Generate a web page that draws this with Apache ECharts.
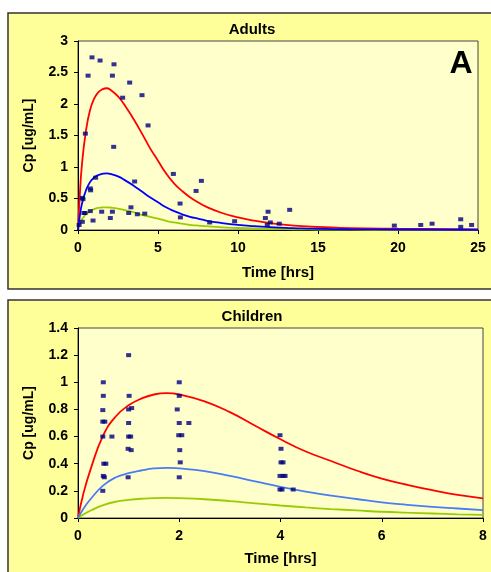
<!DOCTYPE html>
<html>
<head>
<meta charset="utf-8">
<script src="https://cdn.jsdelivr.net/npm/echarts@6/dist/echarts.min.js"></script>
<style>
  html, body { margin: 0; padding: 0; background: #fff; }
  #chart { width: 491px; height: 572px; }
</style>
</head>
<body>
<div id="chart"></div>
<script>
  // Adults - measured points
  var adultT = [0.07, 0.27, 0.27, 0.31, 0.37, 0.44, 0.46, 0.63, 0.77, 0.77, 0.79, 0.875, 0.94, 1.1, 1.38, 1.48,
    2.02, 2.15, 2.15, 2.23, 2.25, 2.79, 3.17, 3.23, 3.31, 3.54, 3.71, 4.0, 4.17, 4.38, 5.96, 6.38, 6.4,
    7.38, 7.71, 8.23, 9.79, 11.71, 11.83, 11.88, 12.02, 12.58, 13.23, 19.77, 21.42, 22.13, 23.92, 23.92, 24.6];
  var adultC = [0.08, 0.13, 0.51, 0.49, 0.27, 0.27, 1.53, 2.45, 0.30, 0.66, 0.63, 2.74, 0.15, 0.83, 2.69, 0.29,
    0.19, 2.45, 0.29, 1.32, 2.63, 2.10, 0.27, 2.34, 0.36, 0.77, 0.25, 2.14, 0.26, 1.66, 0.89, 0.42, 0.20,
    0.62, 0.78, 0.12, 0.14, 0.19, 0.08, 0.29, 0.12, 0.10, 0.32, 0.07, 0.08, 0.10, 0.17, 0.05, 0.08];

  // Adults - model curves
  var adultCurveT = [0, 0.1, 0.25, 0.5, 0.75, 1, 1.25, 1.5, 1.8, 2, 2.5, 3, 3.5, 4, 4.5, 5, 5.5, 6, 6.5, 7, 7.5, 8,
    9, 10, 11, 12, 13, 14, 15, 17, 20, 25];
  var adultRed = [0, 0.5, 1.05, 1.58, 1.9, 2.08, 2.18, 2.23, 2.25, 2.23, 2.12, 1.95, 1.75, 1.53, 1.30, 1.10, 0.90,
    0.74, 0.62, 0.52, 0.44, 0.37, 0.27, 0.20, 0.15, 0.11, 0.08, 0.06, 0.05, 0.03, 0.02, 0.01];
  var adultBlue = [0, 0.2, 0.42, 0.63, 0.76, 0.83, 0.87, 0.89, 0.9, 0.89, 0.85, 0.78, 0.70, 0.61, 0.52, 0.44, 0.36,
    0.30, 0.25, 0.21, 0.18, 0.15, 0.11, 0.08, 0.06, 0.045, 0.035, 0.025, 0.02, 0.012, 0.008, 0.004];
  var adultGreen = [0, 0.08, 0.17, 0.25, 0.30, 0.33, 0.35, 0.357, 0.36, 0.357, 0.34, 0.31, 0.28, 0.24, 0.21, 0.18, 0.145,
    0.12, 0.10, 0.083, 0.07, 0.06, 0.043, 0.032, 0.024, 0.018, 0.014, 0.01, 0.008, 0.005, 0.003, 0.002];

  // Children - measured points
  var childT = [0.5, 0.5, 0.49, 0.49, 0.53, 0.49, 0.67, 0.51, 0.55, 0.5, 0.52, 0.49,
    1.0, 1.01, 1.0, 1.06, 1.0, 1.0, 1.04, 0.99, 1.05, 0.99,
    2.0, 2.0, 1.96, 2.0, 2.19, 1.99, 2.05, 2.01, 2.02, 2.0,
    3.99, 4.01, 4.01, 4.05, 3.99, 4.05, 4.09, 3.99, 4.03, 4.25];
  var childC = [1.0, 0.9, 0.795, 0.71, 0.71, 0.6, 0.6, 0.4, 0.4, 0.31, 0.3, 0.2,
    1.2, 0.9, 0.8, 0.81, 0.7, 0.6, 0.6, 0.51, 0.5, 0.3,
    1.0, 0.9, 0.8, 0.7, 0.7, 0.61, 0.61, 0.5, 0.41, 0.3,
    0.61, 0.51, 0.41, 0.41, 0.31, 0.31, 0.31, 0.21, 0.21, 0.21];

  // Children - model curves
  var childCurveT = [0, 0.1, 0.25, 0.5, 0.75, 1, 1.25, 1.5, 1.75, 2, 2.5, 3, 3.5, 4, 4.5, 5, 5.5, 6, 6.5, 7, 7.5, 8];
  var childRed = [0, 0.17, 0.36, 0.61, 0.75, 0.83, 0.88, 0.91, 0.92, 0.91, 0.86, 0.78, 0.68, 0.58, 0.49, 0.42,
    0.35, 0.29, 0.245, 0.205, 0.17, 0.145];
  var childBlue = [0, 0.065, 0.14, 0.24, 0.30, 0.33, 0.35, 0.365, 0.37, 0.365, 0.345, 0.31, 0.27, 0.23, 0.195,
    0.165, 0.14, 0.115, 0.097, 0.082, 0.07, 0.058];
  var childGreen = [0, 0.025, 0.055, 0.095, 0.12, 0.133, 0.142, 0.147, 0.148, 0.146, 0.138, 0.125, 0.108, 0.092,
    0.078, 0.066, 0.056, 0.046, 0.039, 0.033, 0.027, 0.023];

  function pairs(xs, ys) {
    return xs.map(function (x, i) { return [x, ys[i]]; });
  }

  var font = "'Liberation Sans', Arial, sans-serif";

  function xAx(grid, max, interval, gap) {
    return {
      type: 'value', gridIndex: grid, min: 0, max: max, interval: interval,
      name: 'Time [hrs]', nameLocation: 'middle', nameGap: gap,
      nameTextStyle: { fontFamily: font, fontWeight: 'bold', fontSize: 15, color: '#000' },
      axisLine: { lineStyle: { color: '#000', width: 1 } },
      axisTick: { show: true, length: 4, lineStyle: { color: '#000' } },
      axisLabel: { margin: 11, fontFamily: font, fontWeight: 'bold', fontSize: 14, color: '#000' },
      splitLine: { show: false }
    };
  }
  function yAx(grid, max, interval) {
    return {
      type: 'value', gridIndex: grid, min: 0, max: max, interval: interval,
      name: 'Cp [ug/mL]', nameLocation: 'middle', nameGap: 42,
      nameTextStyle: { fontFamily: font, fontWeight: 'bold', fontSize: 14, color: '#000' },
      axisLine: { show: true, lineStyle: { color: '#000', width: 1 } },
      axisTick: { show: true, length: 4, lineStyle: { color: '#000' } },
      axisLabel: { margin: 10, fontFamily: font, fontWeight: 'bold', fontSize: 14, color: '#000' },
      splitLine: { show: false }
    };
  }
  function curve(xi, data, color, z) {
    return {
      type: 'line', xAxisIndex: xi, yAxisIndex: xi, data: data, showSymbol: false,
      smooth: true, z: z,
      lineStyle: { color: color, width: 1.8 }, silent: true
    };
  }
  function dots(xi, data) {
    return {
      type: 'scatter', xAxisIndex: xi, yAxisIndex: xi, data: data, z: 5,
      symbol: 'rect', symbolSize: [5, 4], itemStyle: { color: '#000080' }
    };
  }

  var chart = echarts.init(document.getElementById('chart'));
  var option = {
    animation: false,
    backgroundColor: '#fff',
    graphic: [
      { type: 'rect', z: -10, shape: { x: 8, y: 13, width: 500, height: 276 },
        style: { fill: '#FFFF99', stroke: '#333', lineWidth: 1.5 } },
      { type: 'rect', z: -10, shape: { x: 8, y: 300, width: 500, height: 290 },
        style: { fill: '#FFFF99', stroke: '#333', lineWidth: 1.5 } },
      { type: 'text', x: 252, y: 30, z: 10,
        style: { text: 'Adults', fill: '#000', font: 'bold 15px ' + font, textAlign: 'center', textVerticalAlign: 'middle' } },
      { type: 'text', x: 252, y: 317, z: 10,
        style: { text: 'Children', fill: '#000', font: 'bold 15px ' + font, textAlign: 'center', textVerticalAlign: 'middle' } },
      { type: 'text', x: 461, y: 64, z: 10,
        style: { text: 'A', fill: '#000', font: 'bold 32px ' + font, textAlign: 'center', textVerticalAlign: 'middle' } }
    ],
    grid: [
      { left: 78, top: 41, width: 400, height: 189, show: true, backgroundColor: '#FFFFCC', borderColor: '#444', borderWidth: 1 },
      { left: 78, top: 328, width: 405, height: 190, show: true, backgroundColor: '#FFFFCC', borderColor: '#444', borderWidth: 1 }
    ],
    xAxis: [xAx(0, 25, 5, 35), xAx(1, 8, 2, 33)],
    yAxis: [yAx(0, 3, 0.5), yAx(1, 1.4, 0.2)],
    series: [
      curve(0, pairs(adultCurveT, adultGreen), '#99CC00', 2),
      curve(0, pairs(adultCurveT, adultRed), '#FF0000', 3),
      curve(0, pairs(adultCurveT, adultBlue), '#0000FF', 4),
      dots(0, pairs(adultT, adultC)),
      curve(1, pairs(childCurveT, childGreen), '#99CC00', 2),
      curve(1, pairs(childCurveT, childRed), '#FF0000', 3),
      curve(1, pairs(childCurveT, childBlue), '#4A7DF2', 4),
      dots(1, pairs(childT, childC))
    ]
  };
  chart.setOption(option);
</script>
</body>
</html>
